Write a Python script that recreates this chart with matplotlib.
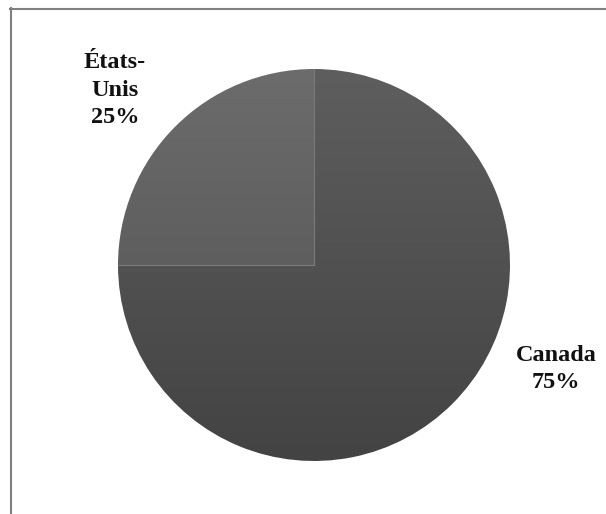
import numpy as np
import matplotlib
matplotlib.use("Agg")
import matplotlib.pyplot as plt
from matplotlib.lines import Line2D

# share of each country
countries = ["Canada", "États-\nUnis"]
shares = [75, 25]
# top / bottom shade of each slice (vertical gradient)
top_colors = ["#5e5e5e", "#6c6c6c"]
bottom_colors = ["#434343", "#505050"]

W, H = 606, 514
fig = plt.figure(figsize=(W / 100, H / 100), dpi=100)
ax = fig.add_axes([0, 0, 1, 1])

cx, cy, r = 314, H - 265, 196
wedges, _ = ax.pie(shares, center=(cx, cy), radius=r, startangle=90,
                   counterclock=False, frame=True,
                   wedgeprops=dict(linewidth=0))
ax.set_xlim(0, W)
ax.set_ylim(0, H)
ax.set_aspect("equal")
ax.axis("off")


def vgrad(c_top, c_bot, n=256):
    a = np.array(matplotlib.colors.to_rgb(c_top))
    b = np.array(matplotlib.colors.to_rgb(c_bot))
    t = np.linspace(0, 1, n)[:, None]
    return (a * (1 - t) + b * t)[:, None, :]


for w, ct, cb in zip(wedges, top_colors, bottom_colors):
    w.set_facecolor("none")
    img = ax.imshow(vgrad(ct, cb), extent=(cx - r, cx + r, cy - r, cy + r),
                    origin="upper", aspect="auto", zorder=1,
                    interpolation="bilinear")
    img.set_clip_path(w)

ax.set_xlim(0, W)
ax.set_ylim(0, H)

# thin lighter lines along the slice borders
ax.plot([cx, cx], [cy, cy + r], color="#7a7a7a", lw=0.8, zorder=5)
ax.plot([cx - r, cx], [cy, cy], color="#7a7a7a", lw=0.8, zorder=5)

font = dict(family="Liberation Serif", weight="bold", size=17.5, color="#111111",
            ha="center", va="center", linespacing=1.38)
ax.text(115, H - 90, "États-\nUnis\n25%", **font)
ax.text(556, H - 369, "Canada\n75%", **font)

# chart area border (top and left edges)
fig.add_artist(Line2D([10.5 / W, 10.5 / W], [0, 1 - 8 / H], color="#808080", lw=1.5,
                      transform=fig.transFigure))
fig.add_artist(Line2D([10 / W, 1], [1 - 8.5 / H, 1 - 8.5 / H], color="#808080", lw=1.5,
                      transform=fig.transFigure))

fig.savefig("out.png", dpi=100)
